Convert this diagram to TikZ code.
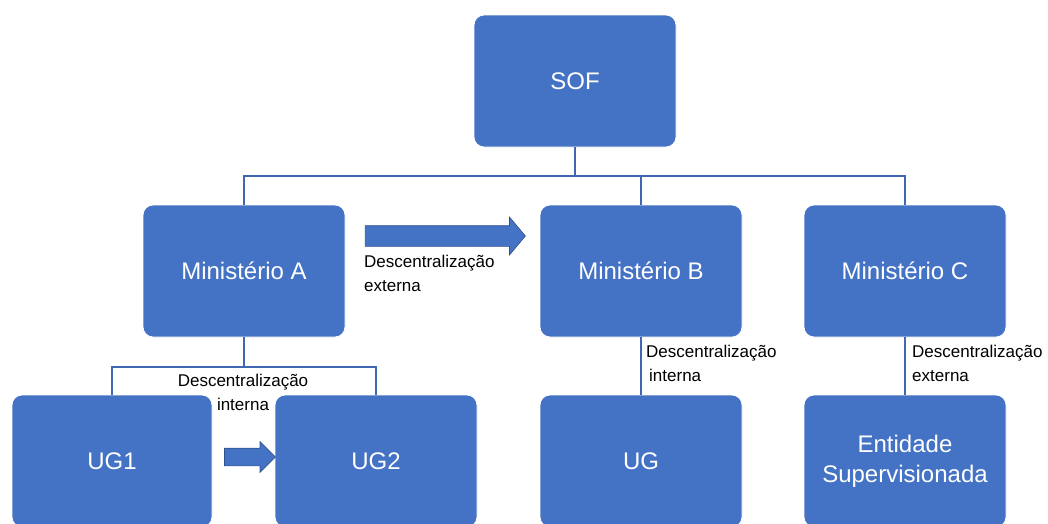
\documentclass[tikz,border=0pt]{standalone}
\usepackage{fontspec}
\setmainfont{Liberation Sans}
\usetikzlibrary{shapes.arrows,positioning}

\begin{document}
\begin{tikzpicture}[x=1pt,y=-1pt,
  orgbox/.style={draw=white, line width=0.8pt, fill=boxcolor, rounded corners=10pt,
    minimum width=202pt, minimum height=132pt, text=white, align=center,
    font=\fontsize{24}{30}\selectfont},
  conn/.style={draw=linecolor, line width=1.6pt},
  blockarrow/.style={single arrow, draw=arrowedge, fill=boxcolor, line width=0.7pt,
    inner xsep=0pt},
  note/.style={inner sep=0pt, font=\fontsize{17}{24}\selectfont}]

  % Colours (Office blue)
  \definecolor{boxcolor}{RGB}{68,114,196}    % box fill
  \definecolor{linecolor}{RGB}{63,103,178}   % connectors
  \definecolor{arrowedge}{RGB}{47,82,143}    % block arrow outline

  % Page frame
  \useasboundingbox (0,0) rectangle (1048,523);
  \clip (0,0) rectangle (1048,523);

  % Top level
  \node[orgbox] (sof) at (575,81) {SOF};

  % Ministries
  \node[orgbox] (minA) at (244,271) {Ministério A};
  \node[orgbox] (minB) at (641,271) {Ministério B};
  \node[orgbox] (minC) at (905,271) {Ministério C};

  % Units
  \node[orgbox, minimum width=200pt] (ug1) at (112,461) {UG1};
  \node[orgbox] (ug2) at (376,461) {UG2};
  \node[orgbox] (ug) at (641,461) {UG};
  \node[orgbox] (ent) at (905,461) {Entidade\\Supervisionada};

  % SOF -> ministries
  \coordinate (bus) at (575,176);
  \draw[conn] (sof.south) -- (bus);
  \foreach \m in {minA,minB,minC}
    \draw[conn] (bus) -| (\m.north);

  % Ministério A -> UG1, UG2
  \coordinate (busA) at (244,367);
  \draw[conn] (minA.south) -- (busA);
  \draw[conn] (busA) -| (ug1.north);
  \draw[conn] (busA) -| (ug2.north);

  % Ministério B -> UG, Ministério C -> Entidade
  \draw[conn] (minB.south) -- (ug.north);
  \draw[conn] (minC.south) -- (ent.north);

  % Block arrows
  \node[blockarrow, inner ysep=10pt, minimum height=160pt,
    single arrow head extend=8.5pt, single arrow tip angle=100] (arrExt) at (441,236) {};
  \node[blockarrow, inner ysep=8.5pt, minimum height=51pt,
    single arrow head extend=6.5pt, single arrow tip angle=90] (arrInt) at (245.5,457) {};

  % Labels
  \node[note, anchor=north west, align=left] (lblExt) at (364,255) {Descentralização\\externa};
  \node[note, anchor=north, align=center] (lblIntA) at (243,374) {Descentralização\\interna};
  \node[note, anchor=north west, align=left] (lblIntB) at (646,345) {Descentralização\\\hspace{3pt}interna};
  \node[note, anchor=north west, align=left] (lblExtC) at (912,345) {Descentralização\\externa};

\end{tikzpicture}
\end{document}
